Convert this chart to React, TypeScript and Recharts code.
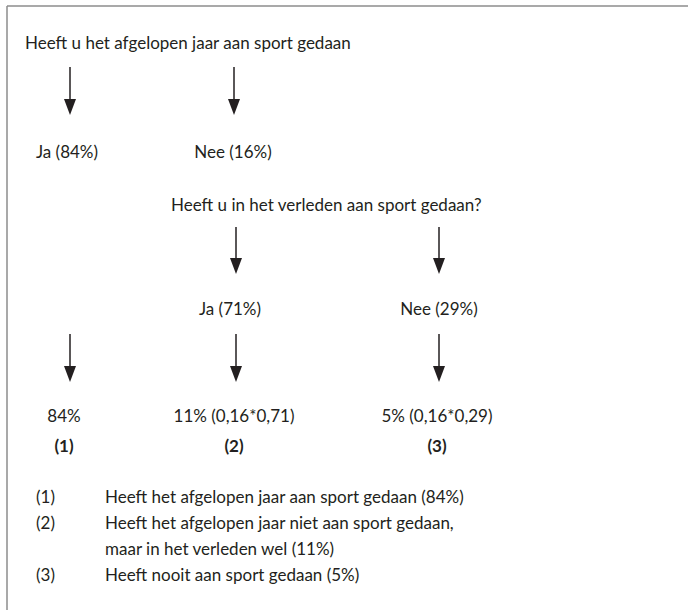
import React from "react";
import { ScatterChart, Scatter, XAxis, YAxis, ReferenceLine } from "recharts";

const W = 688;
const H = 610;
const INK = "#231f20";
const FONT = "Lato, 'Open Sans', sans-serif";

// diagram coordinates, one unit = one pixel
const questionTexts = ["Heeft u het afgelopen jaar aan sport gedaan", "Heeft u in het verleden aan sport gedaan?"];
const questionX = [25, 171];
const questionY = [49, 211];

const answerTexts = ["Ja (84%)", "Nee (16%)", "Ja (71%)", "Nee (29%)"];
const answerX = [67, 233, 230, 439];
const answerY = [158, 158, 315, 315];

const resultTexts = ["84%", "11% (0,16*0,71)", "5% (0,16*0,29)"];
const resultCodes = ["(1)", "(2)", "(3)"];
const resultX = [64, 234, 437];
const resultY = [422, 422, 422];
const codeY = [452, 452, 452];

const arrowX = [70, 234, 236, 439, 70, 236, 439];
const arrowTop = [67, 67, 227, 227, 334, 334, 334];
const arrowTip = [115, 115, 274, 274, 382, 382, 382];

const legendCodes = ["(1)", "(2)", "", "(3)"];
const legendTexts = [
  "Heeft het afgelopen jaar aan sport gedaan (84%)",
  "Heeft het afgelopen jaar niet aan sport gedaan,",
  "maar in het verleden wel (11%)",
  "Heeft nooit aan sport gedaan (5%)",
];
const legendCodeX = 36;
const legendTextX = 105;
const legendY = [503, 529, 555, 581];

const questions = questionTexts.map((t, i) => ({ label: t, x: questionX[i], y: questionY[i] }));
const answers = answerTexts.map((t, i) => ({ label: t, x: answerX[i], y: answerY[i] }));
const results = resultTexts.map((t, i) => ({ label: t, x: resultX[i], y: resultY[i] }));
const codes = resultCodes.map((t, i) => ({ label: t, x: resultX[i], y: codeY[i] }));
const legendLeft = legendCodes.map((t, i) => ({ label: t, x: legendCodeX, y: legendY[i] }));
const legendRight = legendTexts.map((t, i) => ({ label: t, x: legendTextX, y: legendY[i] }));

const textShape = (anchor: "start" | "middle", bold = false) => (props: any) => (
  <text
    x={props.cx}
    y={props.cy}
    textAnchor={anchor}
    fontFamily={FONT}
    fontSize={17}
    fontWeight={bold ? 700 : 400}
    fill={INK}
  >
    {props.payload.label}
  </text>
);

const arrowShape = (props: any) => {
  const { x1, y1, x2, y2 } = props;
  const headH = 16;
  const headW = 6;
  return (
    <g>
      <line x1={x1} y1={y1} x2={x2} y2={y2 - headH + 1} stroke={INK} strokeWidth={1.5} />
      <polygon points={`${x2 - headW},${y2 - headH} ${x2 + headW},${y2 - headH} ${x2},${y2}`} fill={INK} />
    </g>
  );
};

export default function App() {
  return (
    <div style={{ width: W, height: H, background: "#fff" }}>
      <style>{"body{margin:0}"}</style>
      <ScatterChart width={W} height={H} margin={{ top: 0, right: 0, bottom: 0, left: 0 }}>
        <XAxis type="number" dataKey="x" domain={[0, W]} hide />
        <YAxis type="number" dataKey="y" domain={[0, H]} reversed hide />
        <ReferenceLine segment={[{ x: 7, y: 6 }, { x: W, y: 6 }]} stroke="#8c8c8c" strokeWidth={1.5} ifOverflow="visible" />
        <ReferenceLine segment={[{ x: 7, y: 6 }, { x: 7, y: H }]} stroke="#8c8c8c" strokeWidth={1.5} ifOverflow="visible" />
        {arrowX.map((x, i) => (
          <ReferenceLine
            key={`arrow-${i}`}
            segment={[{ x, y: arrowTop[i] }, { x, y: arrowTip[i] }]}
            shape={arrowShape}
            ifOverflow="visible"
          />
        ))}
        <Scatter data={questions} shape={textShape("start")} isAnimationActive={false} />
        <Scatter data={answers} shape={textShape("middle")} isAnimationActive={false} />
        <Scatter data={results} shape={textShape("middle")} isAnimationActive={false} />
        <Scatter data={codes} shape={textShape("middle", true)} isAnimationActive={false} />
        <Scatter data={legendLeft} shape={textShape("start")} isAnimationActive={false} />
        <Scatter data={legendRight} shape={textShape("start")} isAnimationActive={false} />
      </ScatterChart>
    </div>
  );
}
